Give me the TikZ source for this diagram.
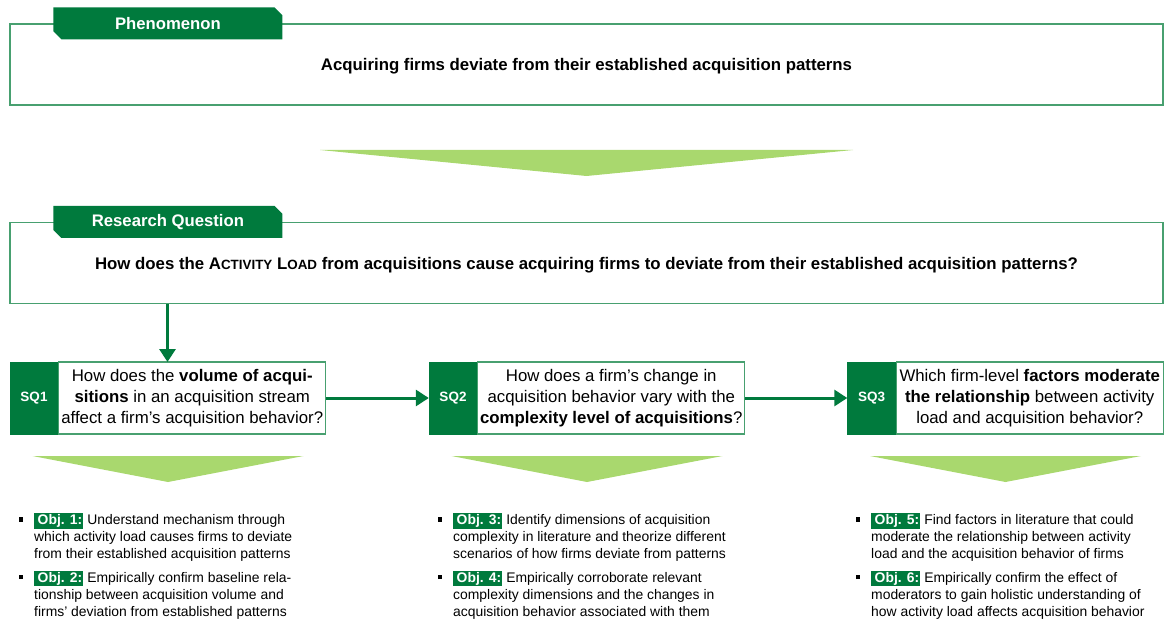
\documentclass[tikz,border=0pt]{standalone}
\usepackage{fontspec}
\setmainfont{Liberation Sans}
\usetikzlibrary{shapes.misc,arrows.meta,positioning,calc}
\definecolor{dkgreen}{RGB}{0,122,61}
\definecolor{framegreen}{RGB}{72,160,112}
\definecolor{ltgreen}{RGB}{169,216,110}
\newcommand\objlabel[1]{{\setlength{\fboxsep}{1.2pt}\colorbox{dkgreen}{\textcolor{white}{\bfseries\,#1}}}}
\newcommand\objbullet{\llap{\rule[2.8pt]{4.5pt}{4.5pt}\hspace{11pt}}}
\newcommand\smcap[1]{{\fontsize{13.4}{16}\selectfont #1}}
\newcommand\chev[4]{\fill[ltgreen] ({#1-#3},#2) -- ({#1+#3},#2) -- (#1,{#2+#4}) -- cycle;}
\tikzset{
  frame/.style={draw=framegreen, line width=1.1pt, minimum width=1153pt,
    minimum height=81pt, inner sep=0pt, text depth=0pt,
    font=\fontsize{16.8}{20}\selectfont\bfseries},
  tab/.style={chamfered rectangle, chamfered rectangle corners={north east,south west},
    chamfered rectangle xsep=4pt, chamfered rectangle ysep=4pt, fill=dkgreen,
    text=white, minimum width=229pt, minimum height=32pt, inner sep=0pt,
    font=\fontsize{16.7}{20}\selectfont\bfseries},
  sqlabel/.style={fill=dkgreen, draw=dkgreen, text=white, minimum width=48pt,
    minimum height=72pt, inner sep=0pt, font=\fontsize{13.5}{16}\selectfont\bfseries},
  sqbox/.style={draw=framegreen, line width=1.1pt, minimum width=267pt,
    minimum height=72pt, inner sep=0pt, align=center, font=\fontsize{16.8}{21}\selectfont},
  obj/.style={anchor=north west, align=left, inner sep=0pt, font=\fontsize{13.9}{17}\selectfont},
  flow/.style={draw=dkgreen, line width=3pt, -{Triangle[length=13pt,width=16pt]}}
}
\begin{document}
\begin{tikzpicture}[x=1pt, y=-1pt]
  \useasboundingbox (0,0) rectangle (1167,623);

  \node[frame] (phen) at (586.5,64.5) {Acquiring firms deviate from their established acquisition patterns};
  \node[tab] (phentab) at ([xshift=158.5pt]phen.north west) {Phenomenon};

  \chev{586.5}{150}{266.5}{26}

  \node[frame] (rq) at (586.5,263) {How does the A\smcap{CTIVITY} L\smcap{OAD} from acquisitions cause acquiring firms to deviate from their established acquisition patterns?};
  \node[tab] (rqtab) at ([xshift=158.5pt]rq.north west) {Research Question};

  \node[sqlabel] (sq1) at (34,398) {SQ1};
  \node[sqbox, right=0pt of sq1] (sq1q) {How does the \textbf{volume of acqui-}\\ \textbf{sitions} in an acquisition stream\\ affect a firm's acquisition behavior?};
  \node[sqlabel] (sq2) at (453,398) {SQ2};
  \node[sqbox, right=0pt of sq2] (sq2q) {How does a firm's change in\\ acquisition behavior vary with the\\ \textbf{complexity level of acquisitions}?};
  \node[sqlabel] (sq3) at (871.5,398) {SQ3};
  \node[sqbox, right=0pt of sq3] (sq3q) {Which firm-level \textbf{factors moderate}\\ \textbf{the relationship} between activity\\ load and acquisition behavior?};

  \coordinate (sq1top) at (167.5,362);
  \draw[flow] (rq.south -| sq1top) -- (sq1top);
  \draw[flow] (sq1q.east) -- (sq2.west);
  \draw[flow] (sq2q.east) -- (sq3.west);

  \chev{168}{456}{135.5}{26}
  \chev{587}{456}{135.5}{26}
  \chev{1005.5}{456}{135.5}{26}

  \node[obj] (obj1) at (34,513) {\objbullet\objlabel{Obj. 1:} Understand mechanism through\\ which activity load causes firms to deviate\\ from their established acquisition patterns};
  \node[obj, below=9pt of obj1.south west, anchor=north west] (obj2) {\objbullet\objlabel{Obj. 2:} Empirically confirm baseline rela-\\ tionship between acquisition volume and\\ firms' deviation from established patterns};
  \node[obj] (obj3) at (453,513) {\objbullet\objlabel{Obj. 3:} Identify dimensions of acquisition\\ complexity in literature and theorize different\\ scenarios of how firms deviate from patterns};
  \node[obj, below=9pt of obj3.south west, anchor=north west] (obj4) {\objbullet\objlabel{Obj. 4:} Empirically corroborate relevant\\ complexity dimensions and the changes in\\ acquisition behavior associated with them};
  \node[obj] (obj5) at (871,513) {\objbullet\objlabel{Obj. 5:} Find factors in literature that could\\ moderate the relationship between activity\\ load and the acquisition behavior of firms};
  \node[obj, below=9pt of obj5.south west, anchor=north west] (obj6) {\objbullet\objlabel{Obj. 6:} Empirically confirm the effect of\\ moderators to gain holistic understanding of\\ how activity load affects acquisition behavior};
\end{tikzpicture}
\end{document}
